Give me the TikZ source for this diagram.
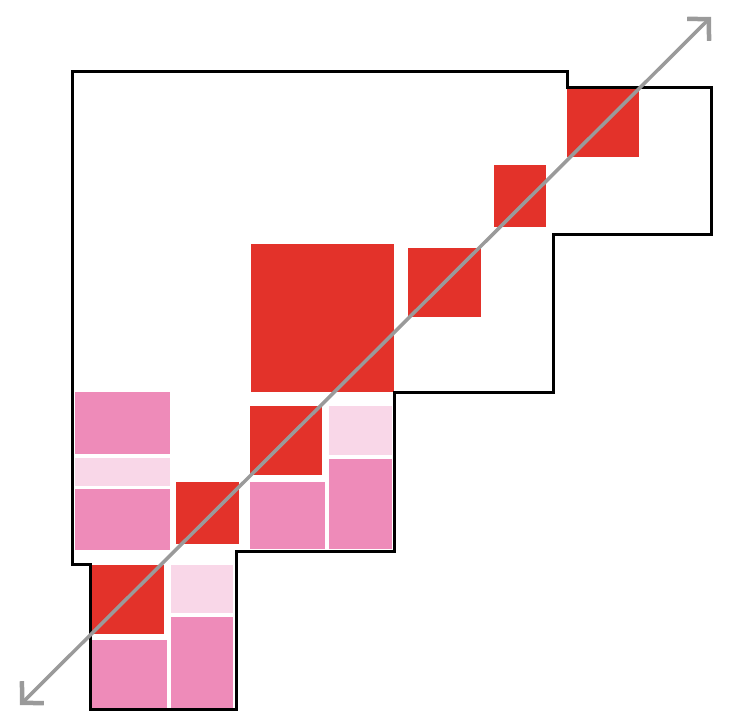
\documentclass[tikz,border=0pt]{standalone}
\usetikzlibrary{arrows.meta}
\definecolor{redsq}{HTML}{E3322A}
\definecolor{pinksq}{HTML}{EE8BB9}
\definecolor{lightsq}{HTML}{F9D7E8}
\definecolor{axisgray}{HTML}{9A9A9A}
\tikzset{
  redbox/.style={fill=redsq},
  pinkbox/.style={fill=pinksq},
  lightbox/.style={fill=lightsq},
  outline/.style={draw=black, line width=3pt, line join=miter},
  diag/.style={draw=axisgray, line width=3.5pt, {Straight Barb[length=15pt,width=31pt,line width=4.5pt]}-{Straight Barb[length=15pt,width=31pt,line width=4.5pt]}}
}
\begin{document}
\begin{tikzpicture}[x=1pt,y=-1pt]
\useasboundingbox[fill=white] (0,0) rectangle (732,720);
% red squares
\fill[redbox] (567,89) rectangle (639,157);
\fill[redbox] (494,165) rectangle (546,227);
\fill[redbox] (408,248) rectangle (481,317);
\fill[redbox] (251,244) rectangle (394,392);
\fill[redbox] (250,406) rectangle (322,475);
\fill[redbox] (176,482) rectangle (239,544);
\fill[redbox] (91,565) rectangle (164,634);
% pink squares
\fill[pinkbox] (75,392) rectangle (170,454);
\fill[lightbox] (75,458) rectangle (170,486);
\fill[pinkbox] (75,489) rectangle (170,550);
\fill[pinkbox] (250,482) rectangle (325,549);
\fill[lightbox] (329,406) rectangle (392,455);
\fill[pinkbox] (329,459) rectangle (392,549);
\fill[lightbox] (171,565) rectangle (233,613);
\fill[pinkbox] (171,617) rectangle (233,709);
\fill[pinkbox] (92,640) rectangle (167,709);
% outline
\draw[outline] (72,71) -- (567,71) -- (567,87) -- (711,87) -- (711,234) -- (553,234)
  -- (553,392) -- (394,392) -- (394,551) -- (236,551) -- (236,709) -- (90,709)
  -- (90,564) -- (72,564) -- cycle;
% diagonal axis
\coordinate (lowend) at (20,705);
\coordinate (highend) at (711,17);
\draw[diag] (lowend) -- (highend);
\end{tikzpicture}
\end{document}
